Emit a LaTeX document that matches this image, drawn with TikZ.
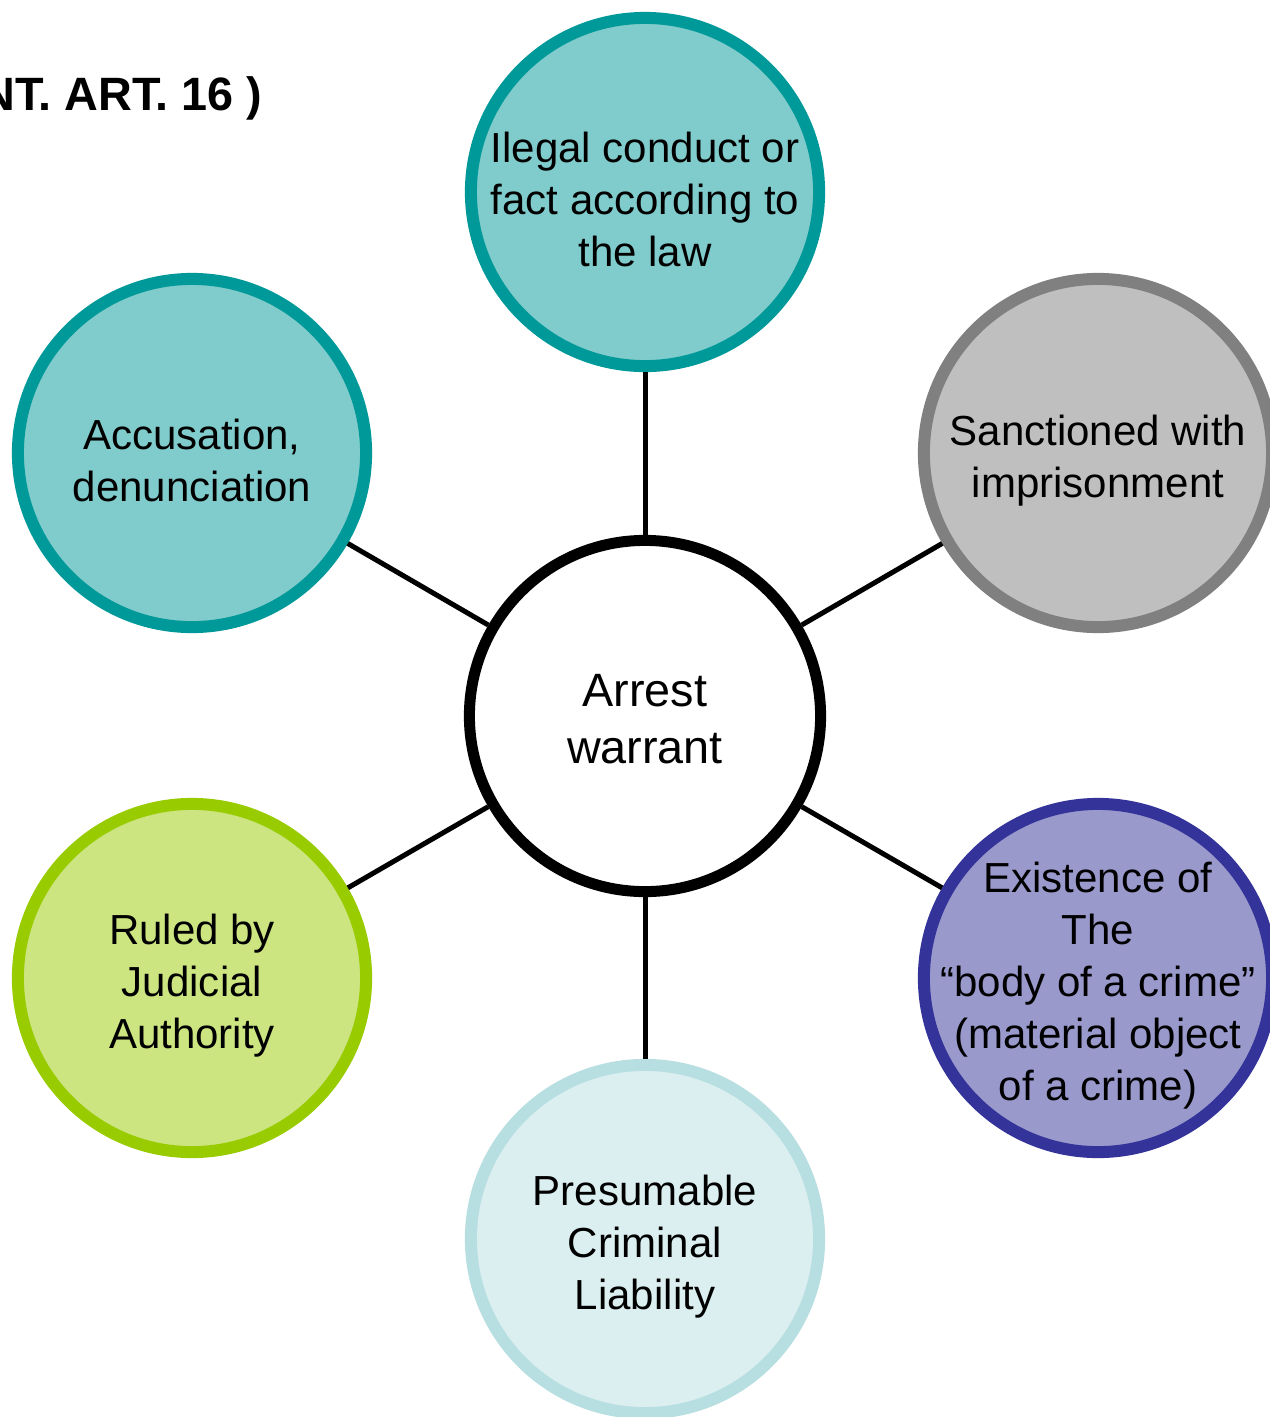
\documentclass[tikz,border=0pt]{standalone}
\usepackage{fontspec}
\setmainfont{Liberation Sans}
\definecolor{tealfill}{RGB}{128,203,203}
\definecolor{tealline}{RGB}{0,153,153}
\definecolor{grayfill}{RGB}{191,191,191}
\definecolor{grayline}{RGB}{128,128,128}
\definecolor{bluefill}{RGB}{153,153,204}
\definecolor{blueline}{RGB}{51,51,153}
\definecolor{greenfill}{RGB}{204,229,128}
\definecolor{greenline}{RGB}{153,204,0}
\definecolor{palefill}{RGB}{219,238,240}
\definecolor{paleline}{RGB}{183,222,225}
\tikzset{
  bubble/.style={circle, inner sep=0pt, minimum size=3.48cm, line width=0.12cm},
  hub/.style={circle, inner sep=0pt, minimum size=3.51cm, line width=0.11cm, draw=black, fill=white},
  btext/.style={align=center, inner sep=0pt, yshift=-0.075cm, font=\fontsize{11.95pt}{14.8pt}\selectfont},
  htext/.style={align=center, inner sep=0pt, yshift=-0.03cm, font=\fontsize{13.3pt}{16.2pt}\selectfont},
  conn/.style={line width=0.05cm, draw=black},
}
\begin{document}
\begin{tikzpicture}[x=0.01cm, y=-0.01cm]
\useasboundingbox (0,0) rectangle (1270,1417);
\clip (0,0) rectangle (1270,1417);
\fill[white] (0,0) rectangle (1270,1417);

\node[anchor=base east, inner sep=0pt, font=\bfseries\fontsize{13.3pt}{15pt}\selectfont] (title) at (263,110) {NT. ART. 16 )};

\node[hub] (c) at (645,716) {};
\node[bubble, draw=tealline, fill=tealfill] (n1) at (645,192) {};
\node[bubble, draw=grayline, fill=grayfill] (n2) at (1098,453) {};
\node[bubble, draw=blueline, fill=bluefill] (n3) at (1098,978) {};
\node[bubble, draw=paleline, fill=palefill] (n4) at (645,1239) {};
\node[bubble, draw=greenline, fill=greenfill] (n5) at (192,978) {};
\node[bubble, draw=tealline, fill=tealfill] (n6) at (192,453) {};

\draw[conn] (c) -- (n1);
\draw[conn] (c) -- (n2);
\draw[conn] (c) -- (n3);
\draw[conn] (c) -- (n4);
\draw[conn] (c) -- (n5);
\draw[conn] (c) -- (n6);

\node[htext] (tc) at (c) {Arrest\\warrant};
\node[btext] (t1) at (n1) {Ilegal conduct or\\fact according to\\the law};
\node[btext] (t2) at (n2) {Sanctioned with\\imprisonment};
\node[btext] (t3) at (n3) {Existence of\\The\\“body of a crime”\\(material object\\of a crime)};
\node[btext] (t4) at (n4) {Presumable\\Criminal\\Liability};
\node[btext] (t5) at (n5) {Ruled by\\Judicial\\Authority};
\node[btext] (t6) at (n6) {Accusation,\\denunciation};
\end{tikzpicture}
\end{document}
